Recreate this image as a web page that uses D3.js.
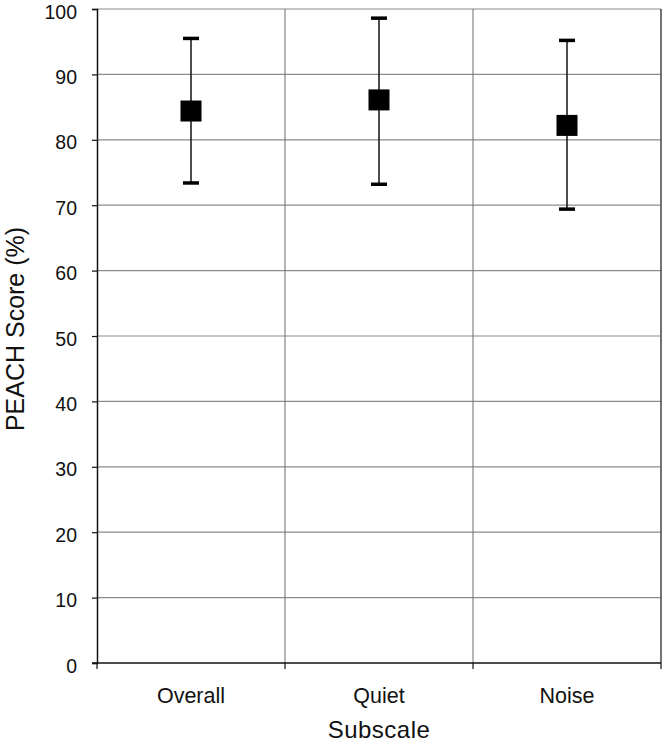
<!DOCTYPE html>
<html lang="en">
<head>
<meta charset="utf-8">
<title>PEACH Score by Subscale</title>
<script src="https://d3js.org/d3.v7.min.js"></script>
<style>
  body { margin: 0; background: #fff; }
  text { font-family: "Liberation Sans", Arial, sans-serif; fill: #111; }
</style>
</head>
<body>
<script>
// data
var subscales = ["Overall", "Quiet", "Noise"];
var means = [84.4, 86.1, 82.2];
var upper = [95.5, 98.6, 95.2];
var lower = [73.4, 73.2, 69.4];
var yTicks = [0, 10, 20, 30, 40, 50, 60, 70, 80, 90, 100];

var width = 666, height = 743;
var margin = {top: 9, right: 5, bottom: 80, left: 97};

var svg = d3.select("body").append("svg")
    .attr("width", width)
    .attr("height", height);

var x = d3.scaleBand()
    .domain(subscales)
    .range([margin.left, width - margin.right]);

var y = d3.scaleLinear()
    .domain([0, 100])
    .range([height - margin.bottom, margin.top]);

// horizontal gridlines
svg.append("g")
    .selectAll("line")
    .data(yTicks.filter(function(d) { return d > 0; }))
    .enter().append("line")
    .attr("x1", margin.left)
    .attr("x2", width - margin.right)
    .attr("y1", function(d) { return y(d); })
    .attr("y2", function(d) { return y(d); })
    .attr("stroke", "#8c8c8c")
    .attr("stroke-width", 1.2);

// vertical gridlines at category boundaries
svg.append("g")
    .selectAll("line")
    .data(subscales.slice(1))
    .enter().append("line")
    .attr("x1", function(d) { return x(d); })
    .attr("x2", function(d) { return x(d); })
    .attr("y1", margin.top)
    .attr("y2", height - margin.bottom)
    .attr("stroke", "#6e6e6e")
    .attr("stroke-width", 1);

// right border
svg.append("line")
    .attr("x1", width - margin.right)
    .attr("x2", width - margin.right)
    .attr("y1", margin.top)
    .attr("y2", height - margin.bottom)
    .attr("stroke", "#444")
    .attr("stroke-width", 1.5);

// y axis
var yAxis = svg.append("g")
    .attr("transform", "translate(" + margin.left + ",0)")
    .call(d3.axisLeft(y).tickValues(yTicks).tickSize(5).tickPadding(15));
yAxis.select(".domain").attr("stroke", "#111").attr("stroke-width", 1.5);
yAxis.selectAll(".tick line").attr("stroke", "#111").attr("stroke-width", 1.2);
yAxis.selectAll("text").attr("font-size", 19.5).attr("fill", "#111")
    .attr("dy", "0.47em")
    .attr("font-family", "Liberation Sans, Arial, sans-serif");

// x axis: ticks at band boundaries
var xAxisG = svg.append("g")
    .attr("transform", "translate(0," + (height - margin.bottom) + ")");
xAxisG.append("line")
    .attr("x1", margin.left - 5)
    .attr("x2", width - margin.right)
    .attr("stroke", "#111")
    .attr("stroke-width", 1.5);
xAxisG.selectAll(".bt")
    .data(subscales.concat(["end"]))
    .enter().append("line")
    .attr("class", "bt")
    .attr("x1", function(d, i) { return i < subscales.length ? x(d) : x(subscales[i - 1]) + x.bandwidth(); })
    .attr("x2", function(d, i) { return i < subscales.length ? x(d) : x(subscales[i - 1]) + x.bandwidth(); })
    .attr("y1", 0)
    .attr("y2", 6)
    .attr("stroke", "#111")
    .attr("stroke-width", 1.2);
xAxisG.selectAll("text")
    .data(subscales)
    .enter().append("text")
    .attr("x", function(d) { return x(d) + x.bandwidth() / 2; })
    .attr("y", 40)
    .attr("text-anchor", "middle")
    .attr("font-size", 21.5)
    .text(function(d) { return d; });

// axis titles
svg.append("text")
    .attr("x", (margin.left + width - margin.right) / 2)
    .attr("y", 738)
    .attr("text-anchor", "middle")
    .attr("font-size", 24)
    .attr("letter-spacing", 0.5)
    .text("Subscale");

svg.append("text")
    .attr("transform", "translate(24,329) rotate(-90)")
    .attr("text-anchor", "middle")
    .attr("font-size", 25)
    .text("PEACH Score (%)");

// error bars
var cx = function(i) { return x(subscales[i]) + x.bandwidth() / 2; };
var marks = svg.append("g");

marks.selectAll(".err")
    .data(subscales)
    .enter().append("line")
    .attr("x1", function(d, i) { return cx(i); })
    .attr("x2", function(d, i) { return cx(i); })
    .attr("y1", function(d, i) { return y(upper[i]); })
    .attr("y2", function(d, i) { return y(lower[i]); })
    .attr("stroke", "#111")
    .attr("stroke-width", 1.5);

var caps = upper.map(function(v, i) { return {i: i, v: v}; })
    .concat(lower.map(function(v, i) { return {i: i, v: v}; }));
marks.selectAll(".cap")
    .data(caps)
    .enter().append("line")
    .attr("x1", function(d) { return cx(d.i) - 8; })
    .attr("x2", function(d) { return cx(d.i) + 8; })
    .attr("y1", function(d) { return y(d.v); })
    .attr("y2", function(d) { return y(d.v); })
    .attr("stroke", "#000")
    .attr("stroke-width", 3.5);

marks.selectAll(".pt")
    .data(means)
    .enter().append("rect")
    .attr("x", function(d, i) { return cx(i) - 10.5; })
    .attr("y", function(d) { return y(d) - 10.5; })
    .attr("width", 21)
    .attr("height", 21)
    .attr("fill", "#000");
</script>
</body>
</html>
